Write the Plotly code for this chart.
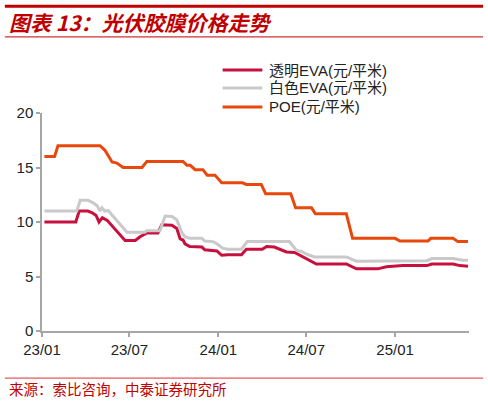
import plotly.graph_objects as go

# ---- data ----
poe_dates = ["2023-01-06","2023-01-27","2023-02-03","2023-05-01","2023-05-11","2023-05-26",
             "2023-06-05","2023-06-11","2023-06-18","2023-07-27","2023-08-06","2023-10-20",
             "2023-10-28","2023-11-04","2023-11-14","2023-11-30","2023-12-09","2023-12-25",
             "2024-01-08","2024-02-20","2024-02-28","2024-03-30","2024-04-08","2024-05-30",
             "2024-06-09","2024-07-12","2024-07-20","2024-09-22","2024-10-05","2025-01-01",
             "2025-01-11","2025-03-10","2025-03-16","2025-05-01","2025-05-11","2025-06-01"]
poe_vals = [16.0,16.0,17.0,17.0,16.6,15.5,
            15.4,15.2,15.0,15.0,15.55,15.55,
            15.2,15.2,14.8,14.8,14.3,14.3,
            13.6,13.6,13.45,13.45,12.6,12.6,
            11.3,11.3,10.75,10.75,8.5,8.5,
            8.25,8.25,8.5,8.5,8.2,8.2]

teva_dates = ["2023-01-06","2023-03-12","2023-03-19","2023-04-06","2023-04-15","2023-04-23",
              "2023-04-29","2023-05-06","2023-05-16","2023-06-22","2023-07-13","2023-07-23",
              "2023-08-06","2023-08-29","2023-09-06","2023-09-27","2023-10-07","2023-10-14",
              "2023-10-20","2023-10-24","2023-11-03","2023-11-28","2023-12-04","2023-12-21",
              "2023-12-29","2024-01-08","2024-01-20","2024-02-18","2024-02-28","2024-04-01",
              "2024-04-10","2024-04-26","2024-05-07","2024-05-21","2024-06-07","2024-06-21",
              "2024-07-04","2024-07-22","2024-09-22","2024-10-13","2024-11-26","2024-12-14",
              "2025-01-17","2025-03-08","2025-03-18","2025-05-01","2025-05-15","2025-06-01"]
teva_vals = [10.0,10.0,11.0,11.0,10.85,10.6,
             10.0,10.4,10.15,8.3,8.3,8.65,
             9.0,9.0,9.75,9.7,9.4,8.45,
             8.35,8.0,7.75,7.7,7.45,7.4,
             7.35,6.95,7.0,7.0,7.5,7.5,
             7.75,7.7,7.5,7.25,7.2,6.85,
             6.55,6.15,6.15,5.7,5.7,5.9,
             6.0,6.0,6.15,6.15,6.0,5.95]

weva_dates = ["2023-01-06","2023-03-14","2023-03-21","2023-04-06","2023-04-15","2023-04-25",
              "2023-05-01","2023-05-05","2023-05-11","2023-05-18","2023-06-26","2023-08-02",
              "2023-08-06","2023-09-02","2023-09-13","2023-09-27","2023-10-07","2023-10-18",
              "2023-10-24","2023-11-03","2023-11-28","2023-12-04","2023-12-21","2023-12-29",
              "2024-01-10","2024-01-20","2024-02-18","2024-03-01","2024-05-27","2024-06-11",
              "2024-06-21","2024-07-02","2024-07-18","2024-09-22","2024-10-13","2025-01-01",
              "2025-03-08","2025-03-18","2025-05-01","2025-05-21","2025-06-01"]
weva_vals = [11.0,11.0,12.0,12.0,11.8,11.5,
             11.0,11.3,11.0,11.05,9.05,9.05,
             9.2,9.2,10.55,10.5,10.2,9.0,
             8.65,8.5,8.5,8.25,8.2,8.0,
             7.6,7.5,7.5,8.2,8.2,7.4,
             7.3,7.05,6.8,6.8,6.4,6.4,
             6.45,6.65,6.65,6.5,6.5]

tick_vals = ["2023-01-01","2023-07-01","2024-01-01","2024-07-01","2025-01-01"]
tick_text = ["23/01","23/07","24/01","24/07","25/01"]

names = ["透明EVA(元/平米)", "白色EVA(元/平米)", "POE(元/平米)"]
colors = ["#C8103E", "#C9C9C9", "#E8480C"]

fig = go.Figure()
for dates, vals, name, col in [(teva_dates, teva_vals, names[0], colors[0]),
                               (weva_dates, weva_vals, names[1], colors[1]),
                               (poe_dates, poe_vals, names[2], colors[2])]:
    fig.add_trace(go.Scatter(x=dates, y=vals, mode="lines", name=name,
                             line=dict(color=col, width=3), showlegend=False))

axis_font = dict(family="Liberation Sans, Arial, sans-serif", size=15, color="#222222")
fig.update_layout(
    width=488, height=402,
    margin=dict(l=42, r=19, t=113, b=71),
    paper_bgcolor="white", plot_bgcolor="white",
    showlegend=False,
    xaxis=dict(type="date", range=["2023-01-01", "2025-06-03"],
               tickvals=tick_vals, ticktext=tick_text,
               showgrid=False, zeroline=False, showline=True, linecolor="#A6A6A6", linewidth=1.5,
               ticks="outside", ticklen=4, tickcolor="#A6A6A6", tickwidth=1.5,
               tickfont=axis_font),
    yaxis=dict(range=[0, 20], tickvals=[0, 5, 10, 15, 20],
               showgrid=False, zeroline=False, showline=True, linecolor="#A6A6A6", linewidth=1.5,
               ticks="outside", ticklen=4, tickcolor="#A6A6A6", tickwidth=1.5,
               tickfont=axis_font),
)

# manual legend (tight row spacing as in the reference)
leg_rows_y = [1.197, 1.115, 1.028]
for name, col, ly in zip(names, colors, leg_rows_y):
    fig.add_shape(type="line", xref="paper", yref="paper", x0=0.423, x1=0.516, y0=ly, y1=ly,
                  line=dict(color=col, width=3))
    fig.add_annotation(xref="paper", yref="paper", x=0.527, y=ly, xanchor="left", yanchor="middle",
                       text=name, showarrow=False,
                       font=dict(family="Liberation Sans, Noto Sans CJK SC, sans-serif",
                                 size=15, color="#222222"))

# header / footer decorations
red = "#C00000"
fig.add_shape(type="line", xref="paper", yref="paper", x0=-0.087, x1=1.033, y0=1.49, y1=1.49,
              line=dict(color=red, width=3))
fig.add_shape(type="line", xref="paper", yref="paper", x0=-0.087, x1=1.033, y0=1.349, y1=1.349,
              line=dict(color=red, width=1))
fig.add_shape(type="line", xref="paper", yref="paper", x0=-0.087, x1=1.033, y0=-0.216, y1=-0.216,
              line=dict(color="#E03030", width=1))
fig.add_annotation(xref="paper", yref="paper", x=-0.082, y=1.418, xanchor="left", yanchor="middle",
                   text="<b><i>图表 13：光伏胶膜价格走势</i></b>", showarrow=False,
                   font=dict(family="Noto Sans CJK SC, sans-serif", size=21, color=red))
fig.add_annotation(xref="paper", yref="paper", x=-0.082, y=-0.262, xanchor="left", yanchor="middle",
                   text="来源：索比咨询，中泰证券研究所", showarrow=False,
                   font=dict(family="Noto Sans CJK SC, sans-serif", size=14.5, color=red))

fig.write_html("out.html", config={"displayModeBar": False},
               post_script="document.body.style.margin='0';")
